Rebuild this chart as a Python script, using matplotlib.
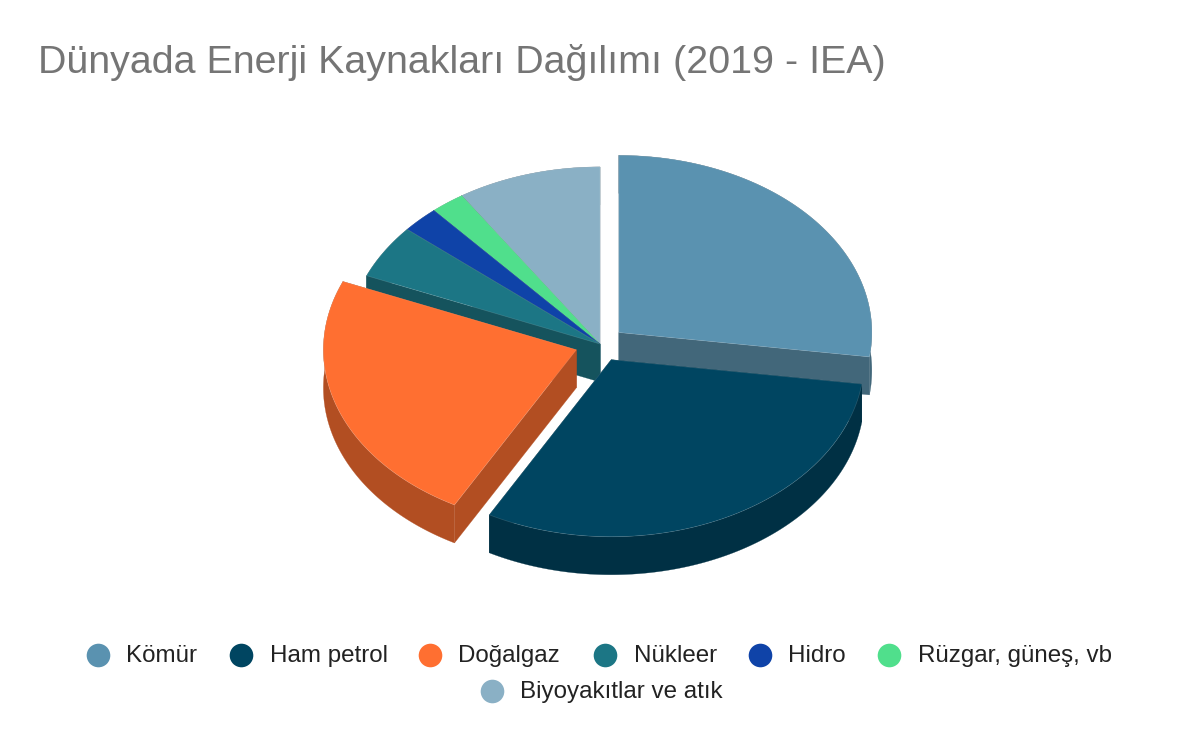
import numpy as np
import matplotlib
matplotlib.use("Agg")
import matplotlib.pyplot as plt
from matplotlib.patches import Polygon

plt.rcParams['font.family'] = ['Liberation Sans', 'DejaVu Sans']

title = "Dünyada Enerji Kaynakları Dağılımı (2019 - IEA)"
categories = ["Kömür", "Ham petrol", "Doğalgaz", "Nükleer", "Hidro", "Rüzgar, güneş, vb", "Biyoyakıtlar ve atık"]
values = [27.2, 30.8, 23.3, 4.9, 2.4, 2.2, 9.2]
exploded = [True, True, True, False, False, False, False]

top_colors = ["#5a92b0", "#004561", "#ff6f31", "#1c7685", "#0f43a8", "#50df8c", "#8ab0c5"]
side_colors = ["#42677a", "#003044", "#b24e22", "#15535d", "#0b2f76", "#389c62", "#617b8a"]

# layout, in pixels
cx, cy = 600, 344
rx, ratio = 253, 0.7
depth = 38
explode_dist = 25


def edge(t, ox, oy):
    return ox + rx * np.sin(t), oy - rx * ratio * np.cos(t)


def draw_slice(ax, a0, a1, ox, oy, top, side):
    t = np.linspace(a0, a1, 200)
    xs, ys = edge(t, ox, oy)
    arc = np.column_stack([xs, ys])
    shift = np.array([0, depth])
    # outer wall first, then the two cut faces, then the top
    ax.add_patch(Polygon(np.vstack([arc, (arc + shift)[::-1]]), fc=side, ec=side, lw=0.2))
    apex = np.array([ox, oy])
    for p in (arc[0], arc[-1]):
        ax.add_patch(Polygon([apex, p, p + shift, apex + shift], fc=side, ec=side, lw=0.2))
    ax.add_patch(Polygon(np.vstack([apex, arc]), fc=top, ec=(1, 1, 1, 0.15), lw=0.5))


fig = plt.figure(figsize=(12, 7.42), dpi=100)
ax = fig.add_axes([0, 0, 1, 1])
ax.set_xlim(0, 1200)
ax.set_ylim(742, 0)
ax.axis("off")

fracs = np.array(values) / sum(values)
ends = np.cumsum(fracs) * 2 * np.pi
starts = ends - fracs * 2 * np.pi

# back slices first so the front ones paint over them
for i in [6, 5, 4, 3, 0, 2, 1]:
    mid = (starts[i] + ends[i]) / 2
    d = explode_dist if exploded[i] else 0
    ox = cx + d * np.sin(mid)
    oy = cy - d * ratio * np.cos(mid)
    draw_slice(ax, starts[i], ends[i], ox, oy, top_colors[i], side_colors[i])

ax.text(38, 62.5, title, fontsize=28.4, color="#757575", va="center", ha="left")

# legend
legend_x = [97.5, 240.5, 429.5, 604.5, 759.5, 888.5, 491.5]
legend_y = [655, 655, 655, 655, 655, 655, 691]
for name, lx, ly, c in zip(categories, legend_x, legend_y, top_colors):
    ax.plot([lx], [ly], "o", ms=17, color=c, mec="none")
    ax.text(lx + 29, ly + 1, name, fontsize=17.4, color="#222222", va="center", ha="left")

fig.savefig("out.png", dpi=100)
